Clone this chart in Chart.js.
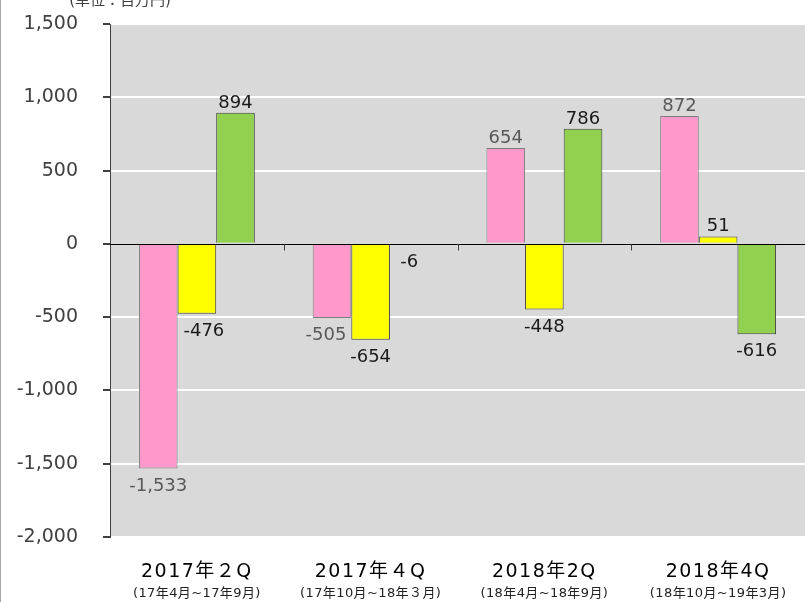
<!DOCTYPE html>
<html><head><meta charset="utf-8">
<script src="https://cdn.jsdelivr.net/npm/chart.js@4/dist/chart.umd.min.js"></script>
<style>html,body{margin:0;padding:0;background:#fff}#wrap{width:805px;height:602px;position:relative}</style>
</head><body><div id="wrap"><canvas id="c" width="805" height="602"></canvas></div>
<script>
const categories = ['2017年２Q', '2017年４Q', '2018年2Q', '2018年4Q'];
const subLabels = ['(17年4月~17年9月)', '(17年10月~18年３月)', '(18年4月~18年9月)', '(18年10月~19年3月)'];
const seriesPink = [-1533, -505, 654, 872];
const seriesYellow = [-476, -654, -448, 51];
const seriesGreen = [894, -6, 786, -616];
const yTicks = [-2000, -1500, -1000, -500, 0, 500, 1000, 1500];
const unitTitle = '(単位：百万円)';

const FONT = '"DejaVu Sans", "Noto Sans CJK JP", sans-serif';
const labelColors = ['#595959', '#1a1a1a', '#1a1a1a'];
// small horizontal nudges of some data labels (dataset index -> point index -> px)
const labelNudge = {0: {1: -6}, 1: {0: 7}};

const decor = {
  id: 'decor',
  beforeDraw(chart) {
    const {ctx, chartArea: a} = chart;
    ctx.save();
    ctx.fillStyle = '#d9d9d9';
    ctx.fillRect(a.left, a.top, a.right - a.left, a.bottom - a.top);
    ctx.restore();
  },
  afterDatasetsDraw(chart) {
    const {ctx, chartArea: a, scales} = chart;
    const x = scales.x, y = scales.y;
    ctx.save();
    const y0 = Math.round(y.getPixelForValue(0)) + 0.5;
    ctx.strokeStyle = '#000';
    ctx.lineWidth = 1;
    ctx.beginPath(); ctx.moveTo(a.left, y0); ctx.lineTo(a.right, y0); ctx.stroke();
    const n = categories.length;
    const w = (a.right - a.left) / n;
    ctx.strokeStyle = '#404040';
    for (let i = 1; i < n; i++) {
      const xx = Math.round(a.left + w * i) + 0.5;
      ctx.beginPath(); ctx.moveTo(xx, y0); ctx.lineTo(xx, y0 + 6); ctx.stroke();
    }
    ctx.font = '18px ' + FONT;
    ctx.textAlign = 'center';
    ctx.textBaseline = 'alphabetic';
    chart.data.datasets.forEach((ds, di) => {
      const meta = chart.getDatasetMeta(di);
      meta.data.forEach((bar, i) => {
        const v = ds.data[i];
        ctx.fillStyle = labelColors[di];
        const txt = v.toLocaleString('en-US');
        const dx = (labelNudge[di] && labelNudge[di][i]) || 0;
        if (v >= 0) ctx.fillText(txt, bar.x + dx, bar.y - 5);
        else ctx.fillText(txt, bar.x + dx, bar.y + 22);
      });
    });
    ctx.textBaseline = 'middle';
    categories.forEach((c, i) => {
      const cx = x.getPixelForValue(i);
      ctx.fillStyle = '#000';
      ctx.font = '19px ' + FONT;
      ctx.letterSpacing = '1.5px';
      ctx.fillText(c, cx, 572);
      ctx.fillStyle = '#222';
      ctx.font = '13px ' + FONT;
      ctx.letterSpacing = '0.4px';
      ctx.fillText(subLabels[i], cx, 594);
    });
    ctx.letterSpacing = '0px';
    ctx.fillStyle = '#404040';
    ctx.font = '15px ' + FONT;
    ctx.textBaseline = 'alphabetic';
    ctx.textAlign = 'center';
    ctx.fillText(unitTitle, 120, 5);
    ctx.strokeStyle = '#a6a6a6';
    ctx.beginPath(); ctx.moveTo(0.5, 0); ctx.lineTo(0.5, 602); ctx.stroke();
    ctx.restore();
  }
};

new Chart(document.getElementById('c'), {
  type: 'bar',
  data: {
    labels: categories,
    datasets: [
      {data: seriesPink, backgroundColor: '#ff99cc', borderColor: '#7f7f7f', borderWidth: 1},
      {data: seriesYellow, backgroundColor: '#ffff00', borderColor: '#404040', borderWidth: 1},
      {data: seriesGreen, backgroundColor: '#92d050', borderColor: '#404040', borderWidth: 1}
    ]
  },
  options: {
    responsive: false,
    animation: false,
    layout: {padding: {top: 24, right: 0, bottom: 0, left: 0}},
    plugins: {legend: {display: false}, tooltip: {enabled: false}},
    datasets: {bar: {categoryPercentage: 0.667, barPercentage: 1}},
    scales: {
      x: {
        grid: {display: false},
        border: {display: false},
        ticks: {display: false},
        afterFit(s) { s.height = 65; }
      },
      y: {
        min: -2000, max: 1500,
        afterBuildTicks(s) { s.ticks = yTicks.map(v => ({value: v})); },
        afterFit(s) { s.width = 110; s.paddingTop = 0; s.paddingBottom = 0; },
        grid: {
          color: c => (c.tick && c.tick.value === 0) ? 'rgba(0,0,0,0)' : '#ffffff',
          lineWidth: 2,
          tickColor: '#404040',
          tickLength: 7,
          drawTicks: true
        },
        border: {display: true, color: '#404040', width: 1},
        ticks: {
          padding: 25,
          color: '#404040',
          font: {family: FONT, size: 19},
          callback: v => v.toLocaleString('en-US')
        }
      }
    }
  },
  plugins: [decor]
});
</script>
</body></html>
